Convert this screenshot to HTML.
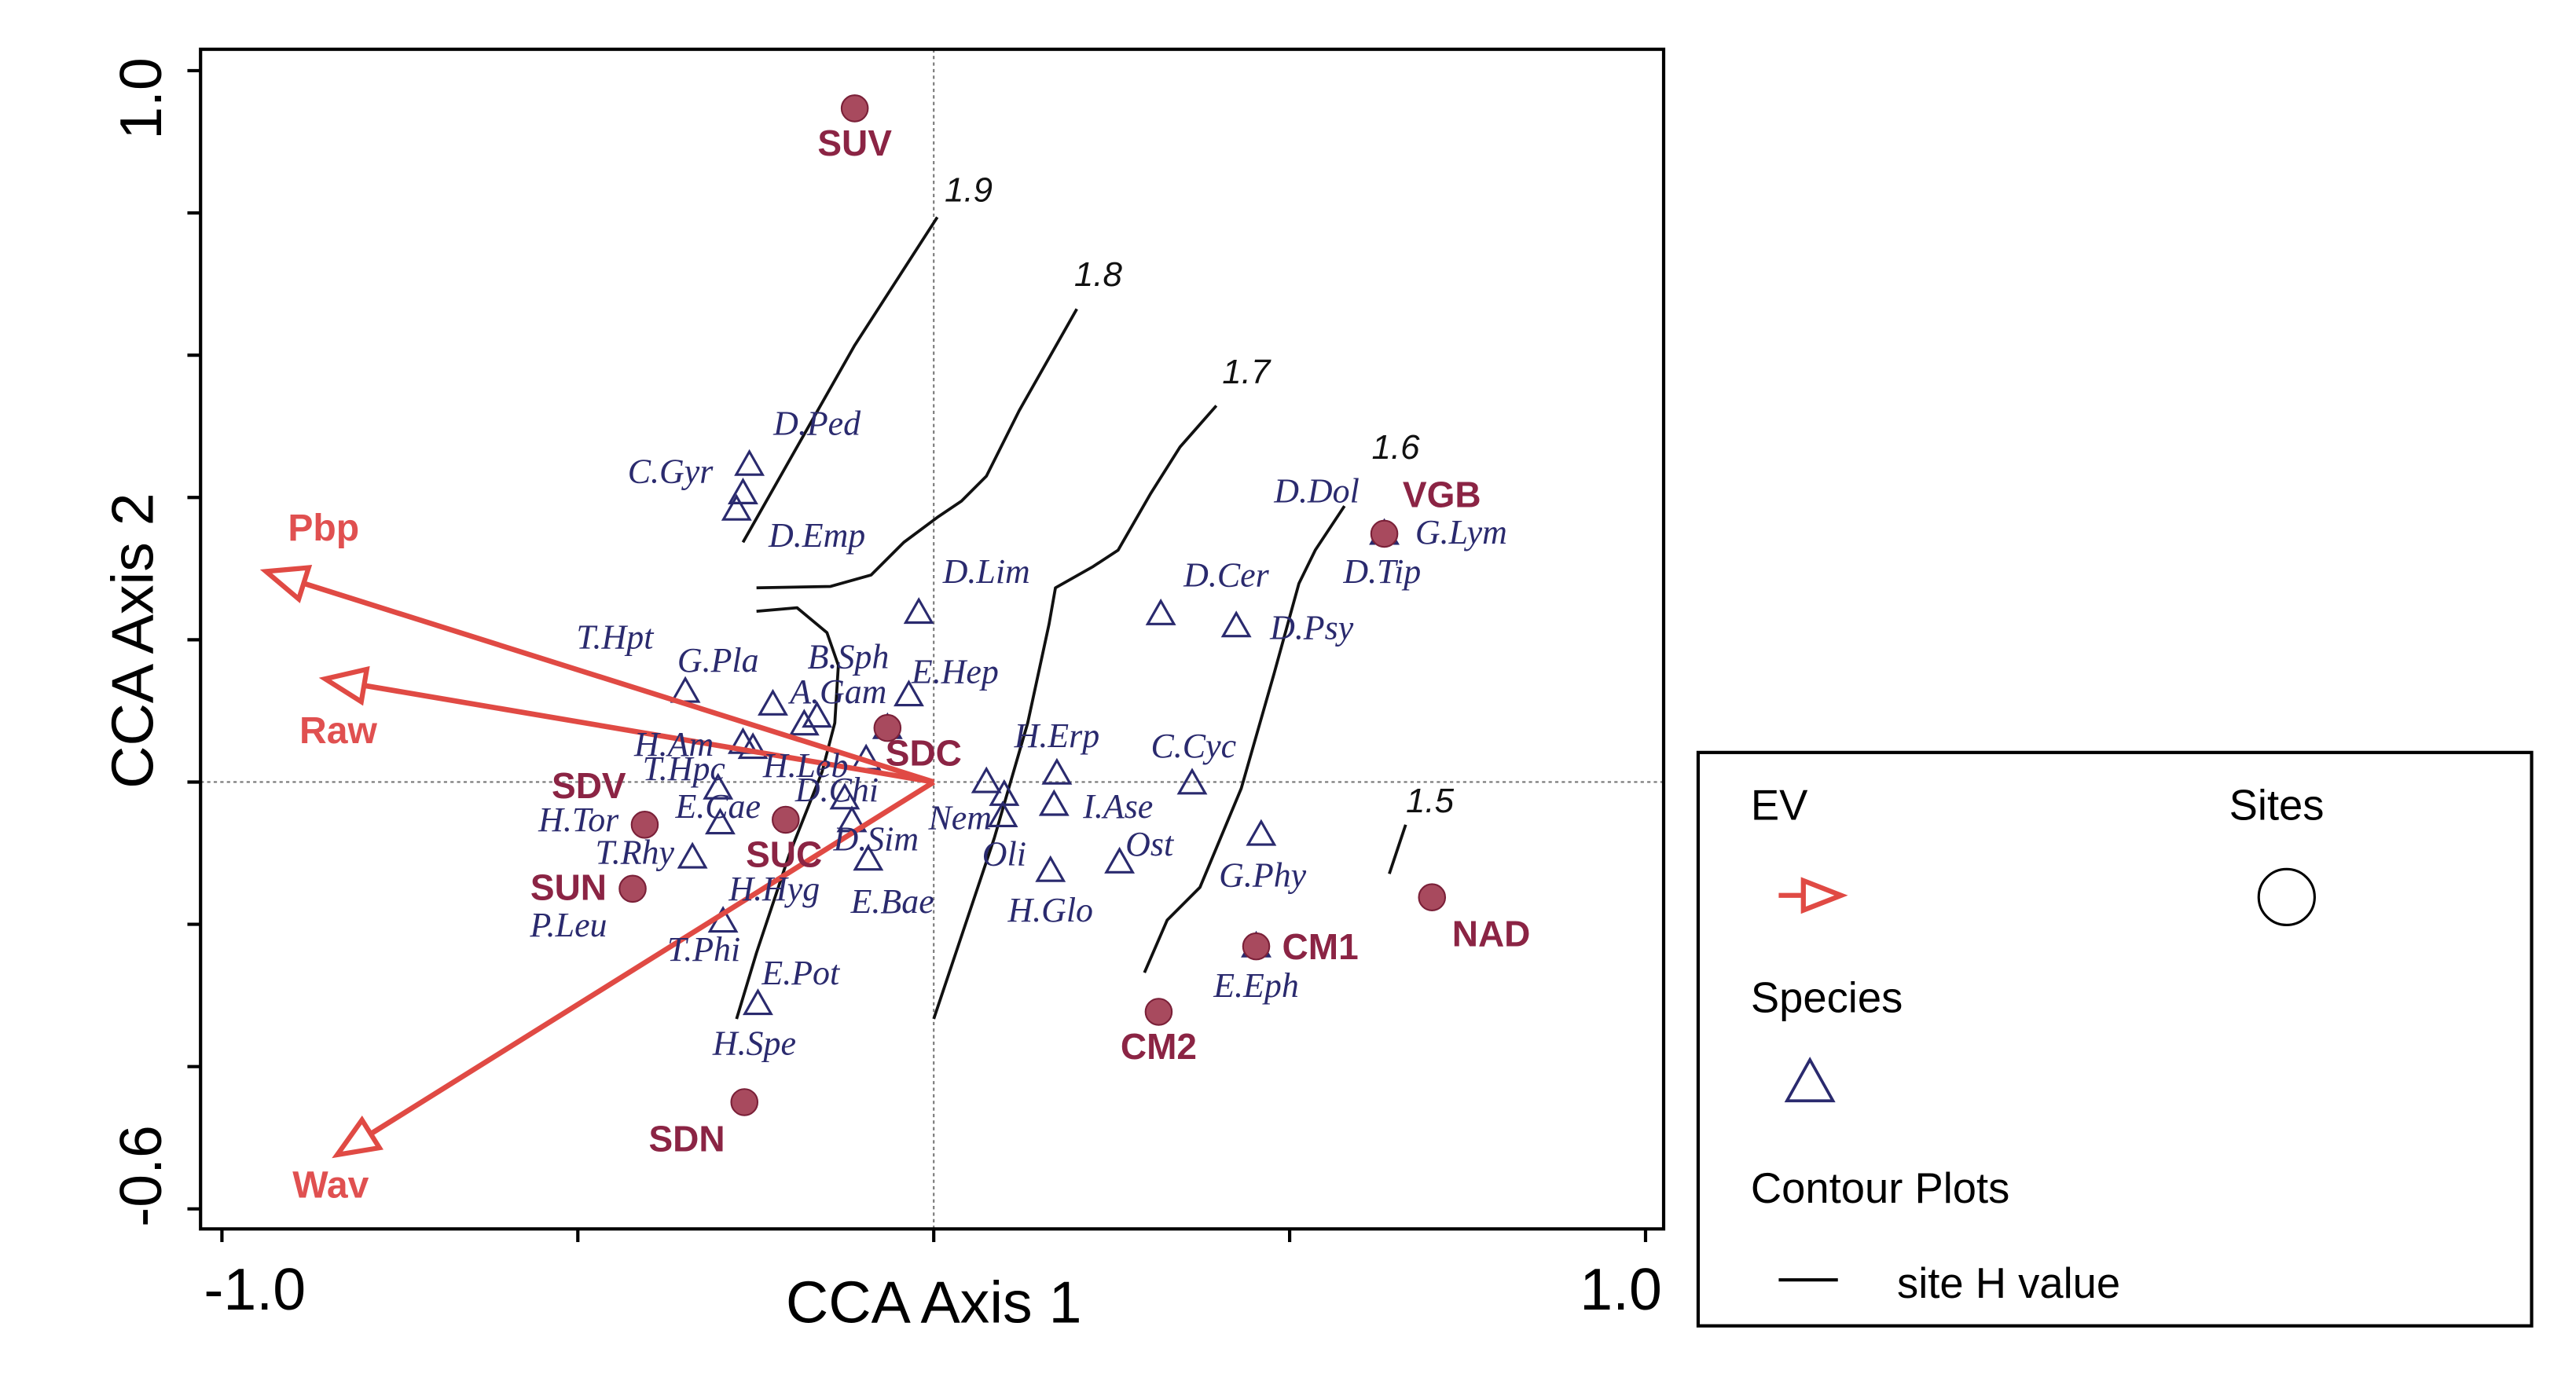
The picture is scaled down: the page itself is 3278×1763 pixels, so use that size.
<!DOCTYPE html>
<html><head><meta charset="utf-8"><style>
html,body{margin:0;padding:0;background:#fff;}
svg{display:block;}
</style></head><body>
<svg id="chart" width="3278" height="1763" viewBox="0 0 1567 843" preserveAspectRatio="none" xmlns="http://www.w3.org/2000/svg">
<rect x="0" y="0" width="1567" height="843" fill="#fff"/>
<g id="plot"></g>
<g>
<rect x="1033" y="458" width="507" height="349" fill="none" stroke="#000" stroke-width="2"/>
<text x="1065" y="499" font-family="Liberation Sans, sans-serif" font-size="26">EV</text>
<text x="1356" y="499" font-family="Liberation Sans, sans-serif" font-size="26">Sites</text>
<g>
<line x1="1082" y1="545" x2="1098" y2="545" stroke="#e04a44" stroke-width="3"/>
<polygon points="1120,545 1097,536 1097,554" fill="#fff" stroke="#e04a44" stroke-width="3"/></g>
<circle cx="1391" cy="546" r="17" fill="#fff" stroke="#000" stroke-width="1.5"/>
<text x="1065" y="616" font-family="Liberation Sans, sans-serif" font-size="26">Species</text>
<polygon points="1101,645 1087,670 1115,670" fill="#fff" stroke="#2a2a6e" stroke-width="1.8"/>
<text x="1065" y="732" font-family="Liberation Sans, sans-serif" font-size="26">Contour Plots</text>
<line x1="1082" y1="779" x2="1118" y2="779" stroke="#000" stroke-width="2"/>
<text x="1154" y="790" font-family="Liberation Sans, sans-serif" font-size="26">site H value</text>
</g>
</svg>
<script>
// ---- data ----
const siteNames = ["SUV","VGB","SDC","SDV","SUC","SUN","NAD","CM1","CM2","SDN"];
const siteX = [-0.111,0.633,-0.065,-0.406,-0.208,-0.423,0.700,0.453,0.316,-0.266];
const siteY = [0.947,0.349,0.076,-0.060,-0.053,-0.150,-0.162,-0.231,-0.323,-0.450];
const siteLabelDx = [0,35,22,-34,-1,-39,36,39,0,-35];
const siteLabelDy = [23,-22,17,-22,23,1,24,2,23,24];

const triX = [-0.259,-0.268,-0.277,-0.021,0.319,0.425,0.633,-0.349,-0.035,-0.226,-0.164,-0.182,-0.268,-0.254,-0.303,-0.095,-0.125,-0.115,-0.300,-0.339,-0.092,-0.296,-0.247,0.173,0.363,0.074,0.099,0.097,0.169,0.164,0.261,0.460,0.453,-0.065];
const triY = [0.446,0.406,0.383,0.238,0.236,0.219,0.349,0.127,0.122,0.109,0.092,0.081,0.055,0.048,-0.009,0.032,-0.023,-0.055,-0.058,-0.106,-0.109,-0.196,-0.312,0.012,-0.002,0.000,-0.018,-0.048,-0.032,-0.125,-0.113,-0.074,-0.231,0.076];

const spNames = ["D.Ped","C.Gyr","D.Emp","D.Lim","D.Cer","D.Psy","D.Dol","G.Lym","D.Tip","T.Hpt","G.Pla","B.Sph","E.Hep","A.Gam","H.Am","T.Hpc","H.Leb","D.Chi","E.Cae","H.Tor","T.Rhy","D.Sim","H.Hyg","E.Bae","P.Leu","T.Phi","E.Pot","H.Spe","H.Erp","C.Cyc","Nem","I.Ase","Oli","Ost","H.Glo","G.Phy","E.Eph"];
const spX = [-0.164,-0.370,-0.164,0.074,0.411,0.531,0.538,0.741,0.630,-0.448,-0.303,-0.120,0.030,-0.134,-0.365,-0.351,-0.180,-0.136,-0.303,-0.499,-0.420,-0.081,-0.224,-0.058,-0.513,-0.323,-0.187,-0.252,0.173,0.365,0.037,0.259,0.099,0.303,0.164,0.462,0.453];
const spY = [0.499,0.432,0.342,0.291,0.286,0.212,0.404,0.346,0.291,0.199,0.166,0.171,0.150,0.122,0.048,0.014,0.018,-0.016,-0.039,-0.058,-0.104,-0.085,-0.155,-0.173,-0.206,-0.240,-0.273,-0.372,0.060,0.046,-0.055,-0.039,-0.106,-0.092,-0.185,-0.136,-0.291];

const evNames = ["Pbp","Raw","Wav"];
const evX = [-0.938,-0.855,-0.838];
const evY = [0.296,0.145,-0.524];
const evLabelDx = [35,8,-4];
const evLabelDy = [-25,33,20];

const contourLevels = ["1.9","1.8","1.8","1.7","1.6","1.5"];
const contourX = [
 [0.005,-0.111,-0.268],
 [0.201,0.120,0.074,0.039,0.005,-0.042,-0.088,-0.145,-0.249],
 [-0.249,-0.192,-0.150,-0.134,-0.139,-0.157,-0.203,-0.249,-0.277],
 [0.397,0.346,0.305,0.259,0.224,0.171,0.162,0.132,0.085,0.000],
 [0.577,0.536,0.513,0.478,0.432,0.374,0.328,0.296],
 [0.663,0.640]];
const contourY = [
 [0.794,0.614,0.337],
 [0.665,0.522,0.430,0.395,0.372,0.337,0.291,0.275,0.273],
 [0.240,0.245,0.210,0.164,0.083,0.014,-0.102,-0.240,-0.333],
 [0.529,0.471,0.406,0.326,0.303,0.273,0.222,0.083,-0.079,-0.333],
 [0.388,0.326,0.279,0.152,-0.009,-0.148,-0.194,-0.268],
 [-0.060,-0.129]];
const contourLabelX = [0.049,0.231,null,0.439,0.649,0.697];
const contourLabelY = [0.829,0.710,null,0.573,0.467,-0.030];

const xTicks = [-1.0,-0.5,0,0.5,1.0];
const yTicks = [1.0,0.8,0.6,0.4,0.2,0,-0.2,-0.4,-0.6];

// ---- axes ----
const X0=568, Y0=476, S=433;
const sx = v => X0 + v*S;
const sy = v => Y0 - v*S;
const NS="http://www.w3.org/2000/svg";
const plot=document.getElementById('plot');
function mk(tag, attrs, parent){const e=document.createElementNS(NS,tag);for(const k in attrs)e.setAttribute(k,attrs[k]);(parent||plot).appendChild(e);return e;}

let e;
e=mk('line',{x1:sx(0),y1:30,x2:sx(0),y2:748,stroke:'#777','stroke-width':1,'stroke-dasharray':'2,2'});


e=mk('line',{x1:122,y1:sy(0),x2:1012,y2:sy(0),stroke:'#777','stroke-width':1,'stroke-dasharray':'2,2'});


e=mk('rect',{x:122,y:30,width:890,height:718,fill:'none',stroke:'#000','stroke-width':2});



xTicks.forEach(t=>{
 e=mk('line',{x1:sx(t),y1:748,x2:sx(t),y2:756,stroke:'#000','stroke-width':2});
 
 
});
yTicks.forEach(t=>{
 e=mk('line',{x1:114,y1:sy(t),x2:122,y2:sy(t),stroke:'#000','stroke-width':2});
 
 
});
const font='Liberation Sans, sans-serif';
e=mk('text',{x:sx(-1.0)+20,y:797,'font-family':font,'font-size':36,'text-anchor':'middle'});e.textContent='-1.0';


e=mk('text',{x:sx(1.0)-15,y:797,'font-family':font,'font-size':36,'text-anchor':'middle'});e.textContent='1.0';


e=mk('text',{x:568,y:805,'font-family':font,'font-size':36,'text-anchor':'middle'});e.textContent='CCA Axis 1';


e=mk('text',{x:0,y:0,'font-family':font,'font-size':36,'text-anchor':'middle',transform:`translate(98,${sy(1.0)+17}) rotate(-90)`});e.textContent='1.0';


e=mk('text',{x:0,y:0,'font-family':font,'font-size':36,'text-anchor':'middle',transform:`translate(98,${sy(-0.6)-20}) rotate(-90)`});e.textContent='-0.6';


e=mk('text',{x:0,y:0,'font-family':font,'font-size':36,'text-anchor':'middle',transform:'translate(93,390) rotate(-90)'});e.textContent='CCA Axis 2';



// contours
contourX.forEach((xs,i)=>{
 const pts=xs.map((x,j)=>sx(x)+','+sy(contourY[i][j])).join(' ');
 e=mk('polyline',{points:pts,fill:'none',stroke:'#111','stroke-width':1.8,'stroke-linejoin':'round'});
 
 
 if(contourLabelX[i]!==null){
  e=mk('text',{x:sx(contourLabelX[i]),y:sy(contourLabelY[i]),'font-family':font,'font-size':21,'font-style':'italic','text-anchor':'middle','dominant-baseline':'middle',fill:'#111'});
  e.textContent=contourLevels[i];
  
  
 }
});

// species triangles
triX.forEach((x,i)=>{
 const cx=sx(x), cy=sy(triY[i]);
 e=mk('polygon',{points:`${cx},${cy-8} ${cx-8},${cy+6} ${cx+8},${cy+6}`,fill:'none',stroke:'#2a2a6e','stroke-width':1.5});
 
 
});

// arrows
evNames.forEach((n,i)=>{
 const x2=sx(evX[i]), y2=sy(evY[i]);
 const dx=x2-X0, dy=y2-Y0, L=Math.hypot(dx,dy), ux=dx/L, uy=dy/L;
 const bx=x2-ux*24, by=y2-uy*24;
 e=mk('line',{x1:X0,y1:Y0,x2:bx,y2:by,stroke:'#e04a44','stroke-width':3.2});
 
 
 e=mk('polygon',{points:`${x2},${y2} ${bx-uy*10},${by+ux*10} ${bx+uy*10},${by-ux*10}`,fill:'#fff',stroke:'#e04a44','stroke-width':3});
 
 
 e=mk('text',{x:x2+evLabelDx[i],y:y2+evLabelDy[i],'font-family':font,'font-size':23,'font-weight':'bold','text-anchor':'middle','dominant-baseline':'middle',fill:'#e05050'});
 e.textContent=n;
 
 
});

// sites
siteNames.forEach((n,i)=>{
 const cx=sx(siteX[i]), cy=sy(siteY[i]);
 e=mk('circle',{cx:cx,cy:cy,r:8,fill:'#a84a5e',stroke:'#7a2038','stroke-width':1});
 
 
 e=mk('text',{x:cx+siteLabelDx[i],y:cy+siteLabelDy[i],'font-family':font,'font-size':22,'font-weight':'bold','text-anchor':'middle','dominant-baseline':'middle',fill:'#8b2444'});
 e.textContent=n;
 
 
});

// species labels
spNames.forEach((n,i)=>{
 e=mk('text',{x:sx(spX[i]),y:sy(spY[i]),'font-family':'Liberation Serif, serif','font-size':21,'font-style':'italic','text-anchor':'middle','dominant-baseline':'middle',fill:'#2a2a6e'});
 e.textContent=n;
 
 
});
</script>
</body></html>
